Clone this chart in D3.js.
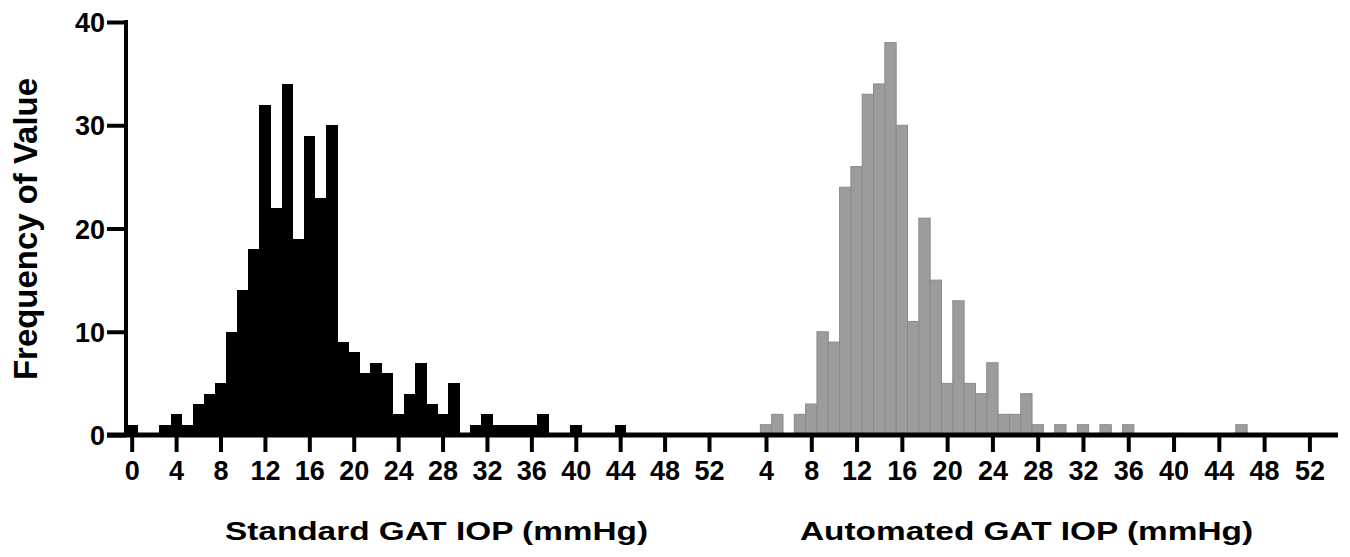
<!DOCTYPE html>
<html>
<head>
<meta charset="utf-8">
<script src="https://cdn.jsdelivr.net/npm/d3@7"></script>
<style>
  html, body { margin: 0; padding: 0; background: #fff; }
  svg { display: block; }
  text { font-family: "Liberation Sans", Arial, Helvetica, sans-serif; font-weight: bold; fill: #000; }
</style>
</head>
<body>
<svg id="chart" width="1350" height="557"></svg>
<script>
// ---- data ----
const standardIOP = [0,1,2,3,4,5,6,7,8,9,10,11,12,13,14,15,16,17,18,19,20,21,22,23,24,25,26,27,28,29,30,31,32,33,34,35,36,37,38,39,40,41,42,43,44];
const standardFreq = [1,0,0,1,2,1,3,4,5,10,14,18,32,22,34,19,29,23,30,9,8,6,7,6,2,4,7,3,2,5,0,1,2,1,1,1,1,2,0,0,1,0,0,0,1];
const automatedIOP = [4,5,6,7,8,9,10,11,12,13,14,15,16,17,18,19,20,21,22,23,24,25,26,27,28,29,30,31,32,33,34,35,36,37,38,39,40,41,42,43,44,45,46];
const automatedFreq = [1,2,0,2,3,10,9,24,26,33,34,38,30,11,21,15,5,13,5,4,7,2,2,4,1,0,1,0,1,0,1,0,1,0,0,0,0,0,0,0,0,0,1];
const leftTicks = [0,4,8,12,16,20,24,28,32,36,40,44,48,52];
const rightTicks = [4,8,12,16,20,24,28,32,36,40,44,48,52];
const yTicks = [0,10,20,30,40];
const yTitle = "Frequency of Value";
const leftTitle = "Standard GAT IOP (mmHg)";
const rightTitle = "Automated GAT IOP (mmHg)";

const svg = d3.select("#chart");

const y = d3.scaleLinear().domain([0, 40]).range([435, 22]);
const xL = d3.scaleLinear().domain([0, 52]).range([131.7, 709]);
const xR = d3.scaleLinear().domain([4, 52]).range([766, 1309.4]);

const wL = xL(1) - xL(0);
const wR = xR(5) - xR(4);

// left histogram (black)
svg.append("g").attr("shape-rendering", "crispEdges").selectAll("rect")
  .data(standardIOP.map((v, i) => ({v, c: standardFreq[i]})).filter(d => d.c > 0))
  .join("rect")
  .attr("x", d => xL(d.v) - wL / 2)
  .attr("width", wL + 0.6)
  .attr("y", d => y(d.c))
  .attr("height", d => y(0) - y(d.c))
  .attr("fill", "#000");

// right histogram (gray)
svg.append("g").selectAll("rect")
  .data(automatedIOP.map((v, i) => ({v, c: automatedFreq[i]})).filter(d => d.c > 0))
  .join("rect")
  .attr("x", d => xR(d.v) - wR / 2)
  .attr("width", wR)
  .attr("y", d => y(d.c))
  .attr("height", d => y(0) - y(d.c))
  .attr("fill", "#9c9c9c")
  .attr("stroke", "#8a8a8a")
  .attr("stroke-width", 1);

// y axis
const yAxis = d3.axisLeft(y).tickValues(yTicks).tickSize(19).tickPadding(2).tickFormat(d3.format("d"));
const gy = svg.append("g").attr("transform", "translate(126,0)").call(yAxis);
gy.select(".domain").attr("stroke-width", 4).attr("stroke", "#000").attr("d", `M0,${y(40)-2}V${y(0)}`);
gy.selectAll(".tick line").attr("stroke-width", 4).attr("stroke", "#000");
gy.selectAll(".tick text").style("font-size", "27px").attr("dy", "0.36em");

// x axis line (continuous)
svg.append("line")
  .attr("x1", 107).attr("x2", 1338)
  .attr("y1", y(0)).attr("y2", y(0))
  .attr("stroke", "#000").attr("stroke-width", 5);

// x axes
function styleX(g) {
  g.select(".domain").remove();
  g.selectAll(".tick line").attr("stroke-width", 4).attr("stroke", "#000");
  g.selectAll(".tick text").style("font-size", "27px");
}
const gxL = svg.append("g").attr("transform", `translate(0,${y(0) + 2})`)
  .call(d3.axisBottom(xL).tickValues(leftTicks).tickSize(15).tickPadding(9).tickFormat(d3.format("d")));
styleX(gxL);
const gxR = svg.append("g").attr("transform", `translate(0,${y(0) + 2})`)
  .call(d3.axisBottom(xR).tickValues(rightTicks).tickSize(15).tickPadding(9).tickFormat(d3.format("d")));
styleX(gxR);

// titles
svg.append("text")
  .attr("x", 436.5).attr("y", 540)
  .attr("text-anchor", "middle")
  .style("font-size", "25px")
  .attr("textLength", 423).attr("lengthAdjust", "spacingAndGlyphs")
  .text(leftTitle);
svg.append("text")
  .attr("x", 1026.5).attr("y", 540)
  .attr("text-anchor", "middle")
  .style("font-size", "25px")
  .attr("textLength", 453).attr("lengthAdjust", "spacingAndGlyphs")
  .text(rightTitle);
svg.append("text")
  .attr("transform", "translate(37,229) rotate(-90)")
  .attr("text-anchor", "middle")
  .style("font-size", "33px")
  .attr("textLength", 302).attr("lengthAdjust", "spacingAndGlyphs")
  .text(yTitle);
</script>
</body>
</html>
